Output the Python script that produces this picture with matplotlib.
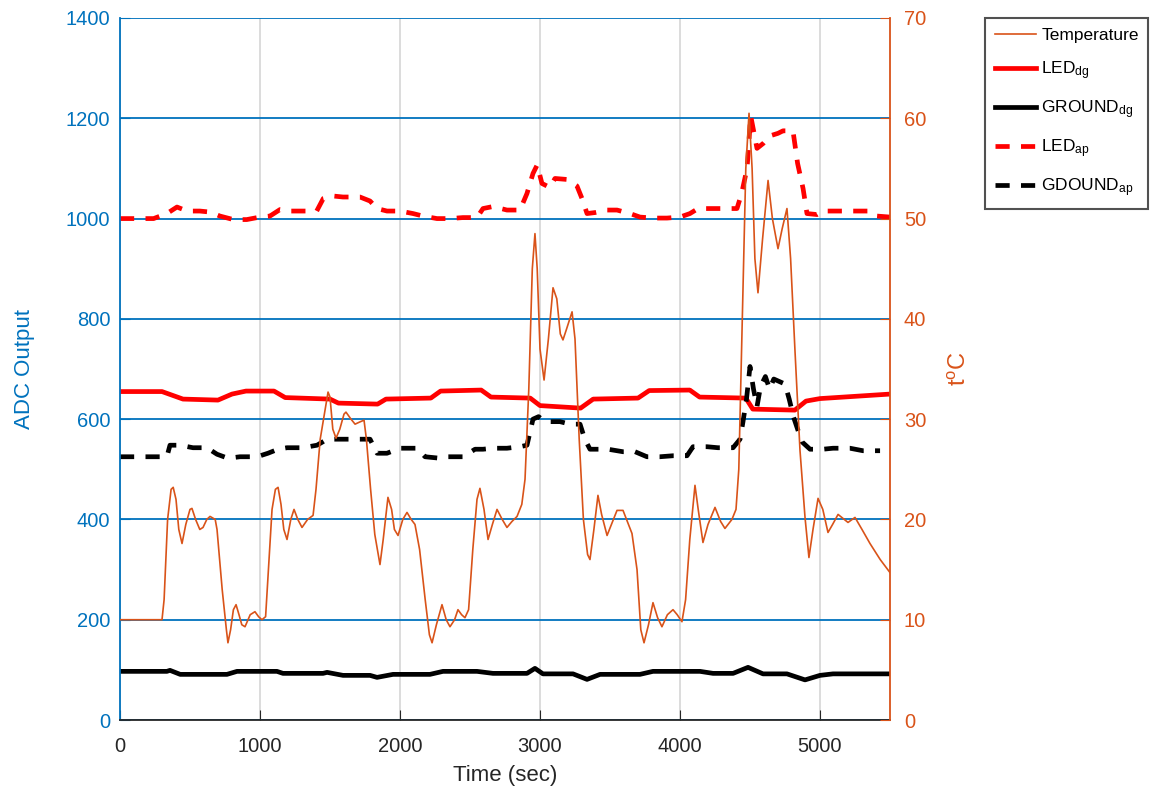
import matplotlib
matplotlib.use("Agg")
import matplotlib.pyplot as plt

plt.rcParams["font.family"] = ["Liberation Sans", "DejaVu Sans"]
plt.rcParams["mathtext.default"] = "regular"

BLUE = "#0072BD"
ORANGE = "#D95319"
DARK = "#262626"

# temperature (right axis, deg C)
time_temp = [0, 300, 315, 340, 365, 380, 400, 420, 443, 470, 500, 514, 540, 570, 593, 620,
             643, 680, 693, 730, 760, 771, 790, 810, 829, 850, 870, 893, 930, 964, 990,
             1014, 1040, 1060, 1086, 1110, 1129, 1150, 1170, 1193, 1220, 1243, 1270, 1300,
             1340, 1379, 1400, 1430, 1460, 1486, 1500, 1520, 1543, 1570, 1600, 1614, 1650,
             1679, 1710, 1743, 1760, 1790, 1820, 1857, 1880, 1914, 1940, 1960, 1986, 2020,
             2050, 2080, 2107, 2140, 2180, 2210, 2229, 2260, 2300, 2330, 2357, 2390, 2414,
             2440, 2464, 2490, 2520, 2550, 2571, 2600, 2629, 2660, 2693, 2730, 2764, 2800,
             2836, 2870, 2893, 2920, 2945, 2964, 2980, 3000, 3029, 3060, 3093, 3120, 3145,
             3164, 3190, 3229, 3250, 3280, 3310, 3340, 3357, 3385, 3414, 3440, 3479, 3510,
             3550, 3593, 3657, 3693, 3720, 3743, 3775, 3807, 3840, 3871, 3910, 3950, 3980,
             4014, 4040, 4070, 4107, 4130, 4164, 4200, 4250, 4290, 4321, 4371, 4400, 4420,
             4445, 4470, 4493, 4515, 4535, 4557, 4590, 4629, 4660, 4700, 4730, 4764, 4790,
             4821, 4857, 4893, 4921, 4950, 4986, 5020, 5057, 5090, 5129, 5200, 5250, 5300,
             5357, 5430, 5500]
temp = [10, 10, 12, 20, 23, 23.2, 22, 19, 17.6, 19.5, 21, 21.1, 20, 19, 19.2, 20,
        20.3, 20, 19, 13, 9, 7.7, 9, 11, 11.5, 10.5, 9.5, 9.3, 10.5, 10.8, 10.3,
        10, 10.3, 15, 21, 23, 23.2, 21.5, 19, 18, 20, 21, 20, 19.2,
        20, 20.4, 23, 28, 30.5, 32.7, 32.2, 29, 28.1, 29, 30.5, 30.7, 30,
        29.5, 29.7, 29.9, 28, 23, 18.5, 15.5, 18, 22.2, 21, 19, 18.4, 20,
        20.7, 20, 19.5, 17, 12, 8.5, 7.7, 9.5, 11.5, 10, 9.3, 10, 11,
        10.5, 10.2, 11, 17, 22, 23.1, 21, 18, 19.5, 21, 20, 19.2, 19.8,
        20.3, 21.5, 24, 33, 45, 48.5, 45, 37, 33.9, 38, 43.1, 42, 38.5,
        37.9, 39, 40.7, 38, 28, 20, 16.5, 16, 19, 22.4, 20.5, 18.4, 19.5,
        20.9, 20.9, 18.6, 15, 9, 7.7, 9.5, 11.7, 10.2, 9.3, 10.5, 11, 10.5,
        9.8, 12, 18, 23.4, 21, 17.7, 19.5, 21.2, 19.8, 19.1, 20, 21, 25,
        40, 55, 60.5, 55, 46, 42.6, 48, 53.8, 50, 47, 49, 51, 46,
        36.9, 26.9, 20.2, 16.2, 19, 22.1, 21, 18.7, 19.5, 20.5, 19.7, 20.2, 19,
        17.6, 16, 14.7]

# LED diagnostic (solid red)
time_led_dg = [0, 300, 350, 450, 700, 800, 900, 1100, 1180, 1500, 1560, 1840, 1900, 2220,
               2290, 2580, 2650, 2930, 3000, 3290, 3380, 3700, 3780, 4070, 4140, 4470, 4520,
               4820, 4900, 5000, 5500]
led_dg = [655, 655, 650, 640, 638, 650, 656, 656, 643, 640, 632, 630, 640, 642,
          656, 658, 644, 642, 627, 622, 640, 642, 657, 658, 644, 642, 620,
          618, 636, 641, 650]

# GROUND diagnostic (solid black)
time_ground_dg = [0, 335, 357, 430, 764, 836, 1121, 1164, 1450, 1479, 1593, 1786, 1836, 1950,
                  2214, 2307, 2550, 2664, 2907, 2964, 3021, 3236, 3336, 3429, 3714, 3807,
                  4143, 4236, 4379, 4486, 4593, 4764, 4893, 5000, 5093, 5500]
ground_dg = [97, 97, 99, 91, 91, 97, 97, 93, 93, 95, 89, 89, 85, 91,
             91, 97, 97, 93, 93, 103, 92, 92, 81, 91, 91, 97,
             97, 93, 93, 105, 92, 92, 80, 89, 92, 92]

# LED ap (dashed red)
time_led_ap = [0, 240, 335, 407, 480, 570, 643, 714, 810, 905, 1000, 1071, 1143, 1214, 1310,
               1405, 1452, 1523, 1593, 1714, 1786, 1836, 1907, 2000, 2093, 2164, 2264, 2357,
               2450, 2550, 2593, 2664, 2764, 2857, 2907, 2950, 2980, 3014, 3071, 3107, 3193,
               3264, 3300, 3336, 3393, 3479, 3550, 3643, 3714, 3807, 3907, 4000, 4071, 4129,
               4214, 4307, 4407, 4440, 4479, 4505, 4550, 4595, 4643, 4700, 4736, 4807, 4840,
               4879, 4907, 4979, 5021, 5164, 5214, 5357, 5407, 5500]
led_ap = [1000, 1000, 1010, 1023, 1015, 1015, 1013, 1005, 998, 998, 1003, 1005, 1018, 1015, 1015,
          1015, 1040, 1045, 1043, 1043, 1035, 1020, 1015, 1015, 1010, 1005, 1000, 1000,
          1002, 1002, 1020, 1024, 1017, 1017, 1050, 1090, 1107, 1070, 1062, 1080, 1078,
          1065, 1040, 1010, 1012, 1017, 1017, 1010, 1003, 1001, 1001, 1003, 1010, 1020,
          1020, 1020, 1020, 1050, 1100, 1205, 1140, 1150, 1165, 1170, 1175, 1175, 1110,
          1060, 1010, 1008, 1015, 1015, 1015, 1015, 1005, 1003]

# GDOUND ap (dashed black)
time_ground_ap = [0, 335, 357, 430, 521, 621, 693, 771, 857, 979, 1057, 1129, 1193, 1307, 1407,
                  1450, 1479, 1786, 1836, 1907, 2000, 2121, 2179, 2286, 2343, 2450, 2536, 2593,
                  2664, 2764, 2857, 2907, 2950, 2990, 3021, 3071, 3143, 3214, 3286, 3320, 3357,
                  3414, 3486, 3593, 3679, 3764, 3857, 3950, 4050, 4093, 4193, 4271, 4379, 4429,
                  4450, 4475, 4500, 4525, 4550, 4575, 4610, 4640, 4670, 4710, 4750, 4780, 4810,
                  4840, 4870, 4929, 5021, 5093, 5214, 5307, 5429]
ground_ap = [525, 525, 548, 548, 543, 543, 530, 522, 525, 525, 532, 540, 543, 543, 548,
             555, 560, 560, 532, 532, 542, 542, 525, 522, 525, 525, 540, 540,
             542, 542, 545, 548, 600, 605, 598, 595, 595, 590, 590, 560, 540,
             540, 540, 535, 535, 525, 525, 527, 527, 545, 545, 543, 543, 560,
             595, 640, 705, 660, 625, 665, 685, 660, 680, 675, 670, 640, 605,
             580, 555, 540, 540, 542, 542, 537, 537]

fig = plt.figure(figsize=(11.56, 7.87), dpi=100)
ax = fig.add_axes([120 / 1156, 1 - 720 / 787, 770 / 1156, 702 / 787])
ax2 = ax.twinx()

ax.set_zorder(1)
ax2.set_zorder(2)
ax.patch.set_visible(True)
ax2.patch.set_visible(False)

l_ldg, = ax.plot(time_led_dg, led_dg, color="red", lw=3.4, label="LED$_{dg}$")
l_gdg, = ax.plot(time_ground_dg, ground_dg, color="black", lw=3.4, label="GROUND$_{dg}$")
l_lap, = ax.plot(time_led_ap, led_ap, color="red", lw=3.4, dashes=(3.0, 2.4),
                 label="LED$_{ap}$")
l_gap, = ax.plot(time_ground_ap, ground_ap, color="black", lw=3.4, dashes=(3.0, 2.4),
                 label="GDOUND$_{ap}$")
l_t, = ax2.plot(time_temp, temp, color=ORANGE, lw=1.2, label="Temperature")

ax.set_xlim(0, 5500)
ax.set_ylim(0, 1400)
ax2.set_ylim(0, 70)
ax.set_xticks(range(0, 5001, 1000))
ax.set_yticks(range(0, 1401, 200))
ax2.set_yticks(range(0, 71, 10))

# grid: blue horizontal, light gray vertical
ax.set_axisbelow(True)
ax.yaxis.grid(True, color=BLUE, lw=1.3)
ax.xaxis.grid(True, color="#d9d9d9", lw=1.3)

for a in (ax, ax2):
    a.spines["top"].set_visible(False)
ax.spines["left"].set_color(BLUE)
ax.spines["left"].set_linewidth(1.3)
ax.spines["bottom"].set_color(DARK)
ax.spines["bottom"].set_linewidth(1.3)
ax.spines["right"].set_visible(False)
ax2.spines["left"].set_visible(False)
ax2.spines["bottom"].set_visible(False)
ax2.spines["right"].set_color(ORANGE)
ax2.spines["right"].set_linewidth(1.3)

ax.tick_params(axis="y", direction="in", colors=BLUE, labelsize=14.5, length=7, pad=7)
ax.tick_params(axis="x", direction="in", colors=DARK, labelsize=14.5, length=7, pad=12)
ax2.tick_params(axis="y", direction="in", colors=ORANGE, labelsize=14.5, length=7, pad=10)

ax.set_xlabel("Time (sec)", fontsize=16, color=DARK, labelpad=7)
ax.set_ylabel("ADC Output", fontsize=16, color=BLUE, labelpad=22)
ax2.set_ylabel("t$^o$C", fontsize=17, color=ORANGE, labelpad=16)

leg = fig.legend(handles=[l_t, l_ldg, l_gdg, l_lap, l_gap], loc="upper left",
                 bbox_to_anchor=(985 / 1156, 1 - 18 / 787), borderaxespad=0,
                 fontsize=12.5, frameon=True, fancybox=False, handlelength=2.4,
                 labelspacing=0.95, borderpad=0.55, handletextpad=0.3)
leg.get_frame().set_edgecolor(DARK)
leg.get_frame().set_linewidth(1.5)

fig.savefig("out.png", dpi=100)
